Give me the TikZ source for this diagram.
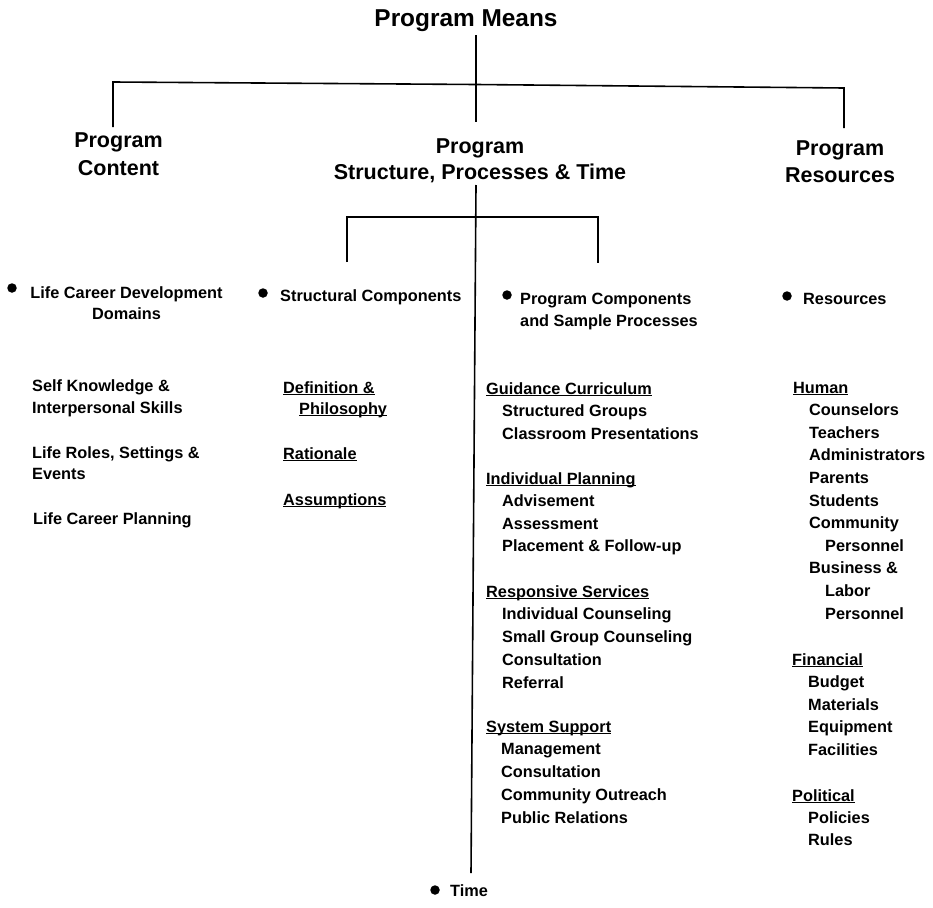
\documentclass[tikz,border=0pt]{standalone}
\usepackage{fontspec}
\setmainfont{Liberation Sans}
\newcommand\ulx[1]{\setbox0\hbox{#1}\rlap{\rule[-2.4pt]{\wd0}{1.1pt}}\box0}
\tikzset{
  head/.style={font=\fontsize{21.5}{27}\selectfont\bfseries, align=center, inner sep=3pt, anchor=base},
  big/.style={font=\fontsize{24.4}{29}\selectfont\bfseries, inner sep=3pt, anchor=base},
  body/.style={font=\fontsize{16.3}{22.6}\selectfont\bfseries, align=left, inner sep=0pt, anchor=base west},
  dot/.style={circle, fill=black, draw=none, inner sep=0pt, minimum size=9.5pt},
  ln/.style={line width=1.6pt, line cap=butt, line join=miter}
}
\begin{document}
\begin{tikzpicture}[x=1pt,y=-1pt]
\useasboundingbox (0,0) rectangle (933,907);

% headings (base anchor = baseline of the last line)
\node[big] (pm) at (466,26.7) {Program Means};
\node[head, font=\fontsize{21.5}{28}\selectfont\bfseries] (pc) at (118.5,175.7) {Program\\Content};
\node[head, font=\fontsize{21.5}{26}\selectfont\bfseries] (ps) at (480,179.7) {Program\\Structure, Processes \& Time};
\node[head] (pr) at (840,182.7) {Program\\Resources};

% connector junctions
\coordinate (jT) at (476,84.5);
\coordinate (jL) at (113,82);
\coordinate (jR) at (844,88);
\coordinate (eL) at (113,127);
\coordinate (eR) at (844,128);
\coordinate (eC) at (476,122);
\coordinate (tTop) at (476,185);
\coordinate (tBot) at (471,873);
\coordinate (sL) at (347,217);
\coordinate (sR) at (598,217);
\coordinate (sC) at (475.5,217);
\coordinate (sLb) at (347,262);
\coordinate (sRb) at (598,263);

\draw[ln] (pm.south -| jT) -- (jT);
\draw[ln] (eL) -- (jL) -- (jT) -- (jR) -- (eR);
\draw[ln] (jT) -- (eC);
\draw[ln] (tTop) -- (tBot);
\draw[ln] (sLb) -- (sL) -- (sC) -- (sR) -- (sRb);

% column 1
\node[dot] (d1) at (12,288) {};
\node[body, align=center, anchor=base, font=\fontsize{16.3}{21}\selectfont\bfseries] (lcd) at (126.5,319) {Life Career Development\\Domains};
\node[body, font=\fontsize{16.3}{22}\selectfont\bfseries] (sk) at (32,413) {Self Knowledge \&\\Interpersonal Skills};
\node[body, font=\fontsize{16.3}{21}\selectfont\bfseries] (lr) at (32,479) {Life Roles, Settings \&\\Events};
\node[body] (lcp) at (33,524) {Life Career Planning};

% column 2
\node[dot] (d2) at (263,293) {};
\node[body] (sc) at (280,301) {Structural Components};
\node[body, font=\fontsize{16.3}{21}\selectfont\bfseries] (def) at (283,414) {\ulx{Definition \&}\\\hspace*{16pt}\ulx{Philosophy}};
\node[body] (rat) at (283,459) {\ulx{Rationale}};
\node[body] (ass) at (283,505) {\ulx{Assumptions}};

% column 3
\node[dot] (d3) at (507,295) {};
\node[body, font=\fontsize{16.3}{22}\selectfont\bfseries] (pcs) at (520,326) {Program Components\\and Sample Processes};
\node[body] (gc) at (486,439.2) {\ulx{Guidance Curriculum}\\\hspace*{16pt}Structured Groups\\\hspace*{16pt}Classroom Presentations};
\node[body] (ip) at (486,551.8) {\ulx{Individual Planning}\\\hspace*{16pt}Advisement\\\hspace*{16pt}Assessment\\\hspace*{16pt}Placement \& Follow-up};
\node[body, font=\fontsize{16.3}{22.75}\selectfont\bfseries] (rs) at (486,688) {\ulx{Responsive Services}\\\hspace*{16pt}Individual Counseling\\\hspace*{16pt}Small Group Counseling\\\hspace*{16pt}Consultation\\\hspace*{16pt}Referral};
\node[body, font=\fontsize{16.3}{22.75}\selectfont\bfseries] (ss) at (486,823) {\ulx{System Support}\\\hspace*{15pt}Management\\\hspace*{15pt}Consultation\\\hspace*{15pt}Community Outreach\\\hspace*{15pt}Public Relations};

% column 4
\node[dot] (d4) at (787,296) {};
\node[body] (res) at (803,304) {Resources};
\node[body] (hum) at (793,619) {\ulx{Human}\\\hspace*{16pt}Counselors\\\hspace*{16pt}Teachers\\\hspace*{16pt}Administrators\\\hspace*{16pt}Parents\\\hspace*{16pt}Students\\\hspace*{16pt}Community\\\hspace*{32pt}Personnel\\\hspace*{16pt}Business \&\\\hspace*{32pt}Labor\\\hspace*{32pt}Personnel};
\node[body, font=\fontsize{16.3}{22.5}\selectfont\bfseries] (fin) at (792,755) {\ulx{Financial}\\\hspace*{16pt}Budget\\\hspace*{16pt}Materials\\\hspace*{16pt}Equipment\\\hspace*{16pt}Facilities};
\node[body, font=\fontsize{16.3}{22}\selectfont\bfseries] (pol) at (792,845) {\ulx{Political}\\\hspace*{16pt}Policies\\\hspace*{16pt}Rules};

% time
\node[dot] (d5) at (435,890) {};
\node[body] (tm) at (450,896) {Time};
\end{tikzpicture}
\end{document}
